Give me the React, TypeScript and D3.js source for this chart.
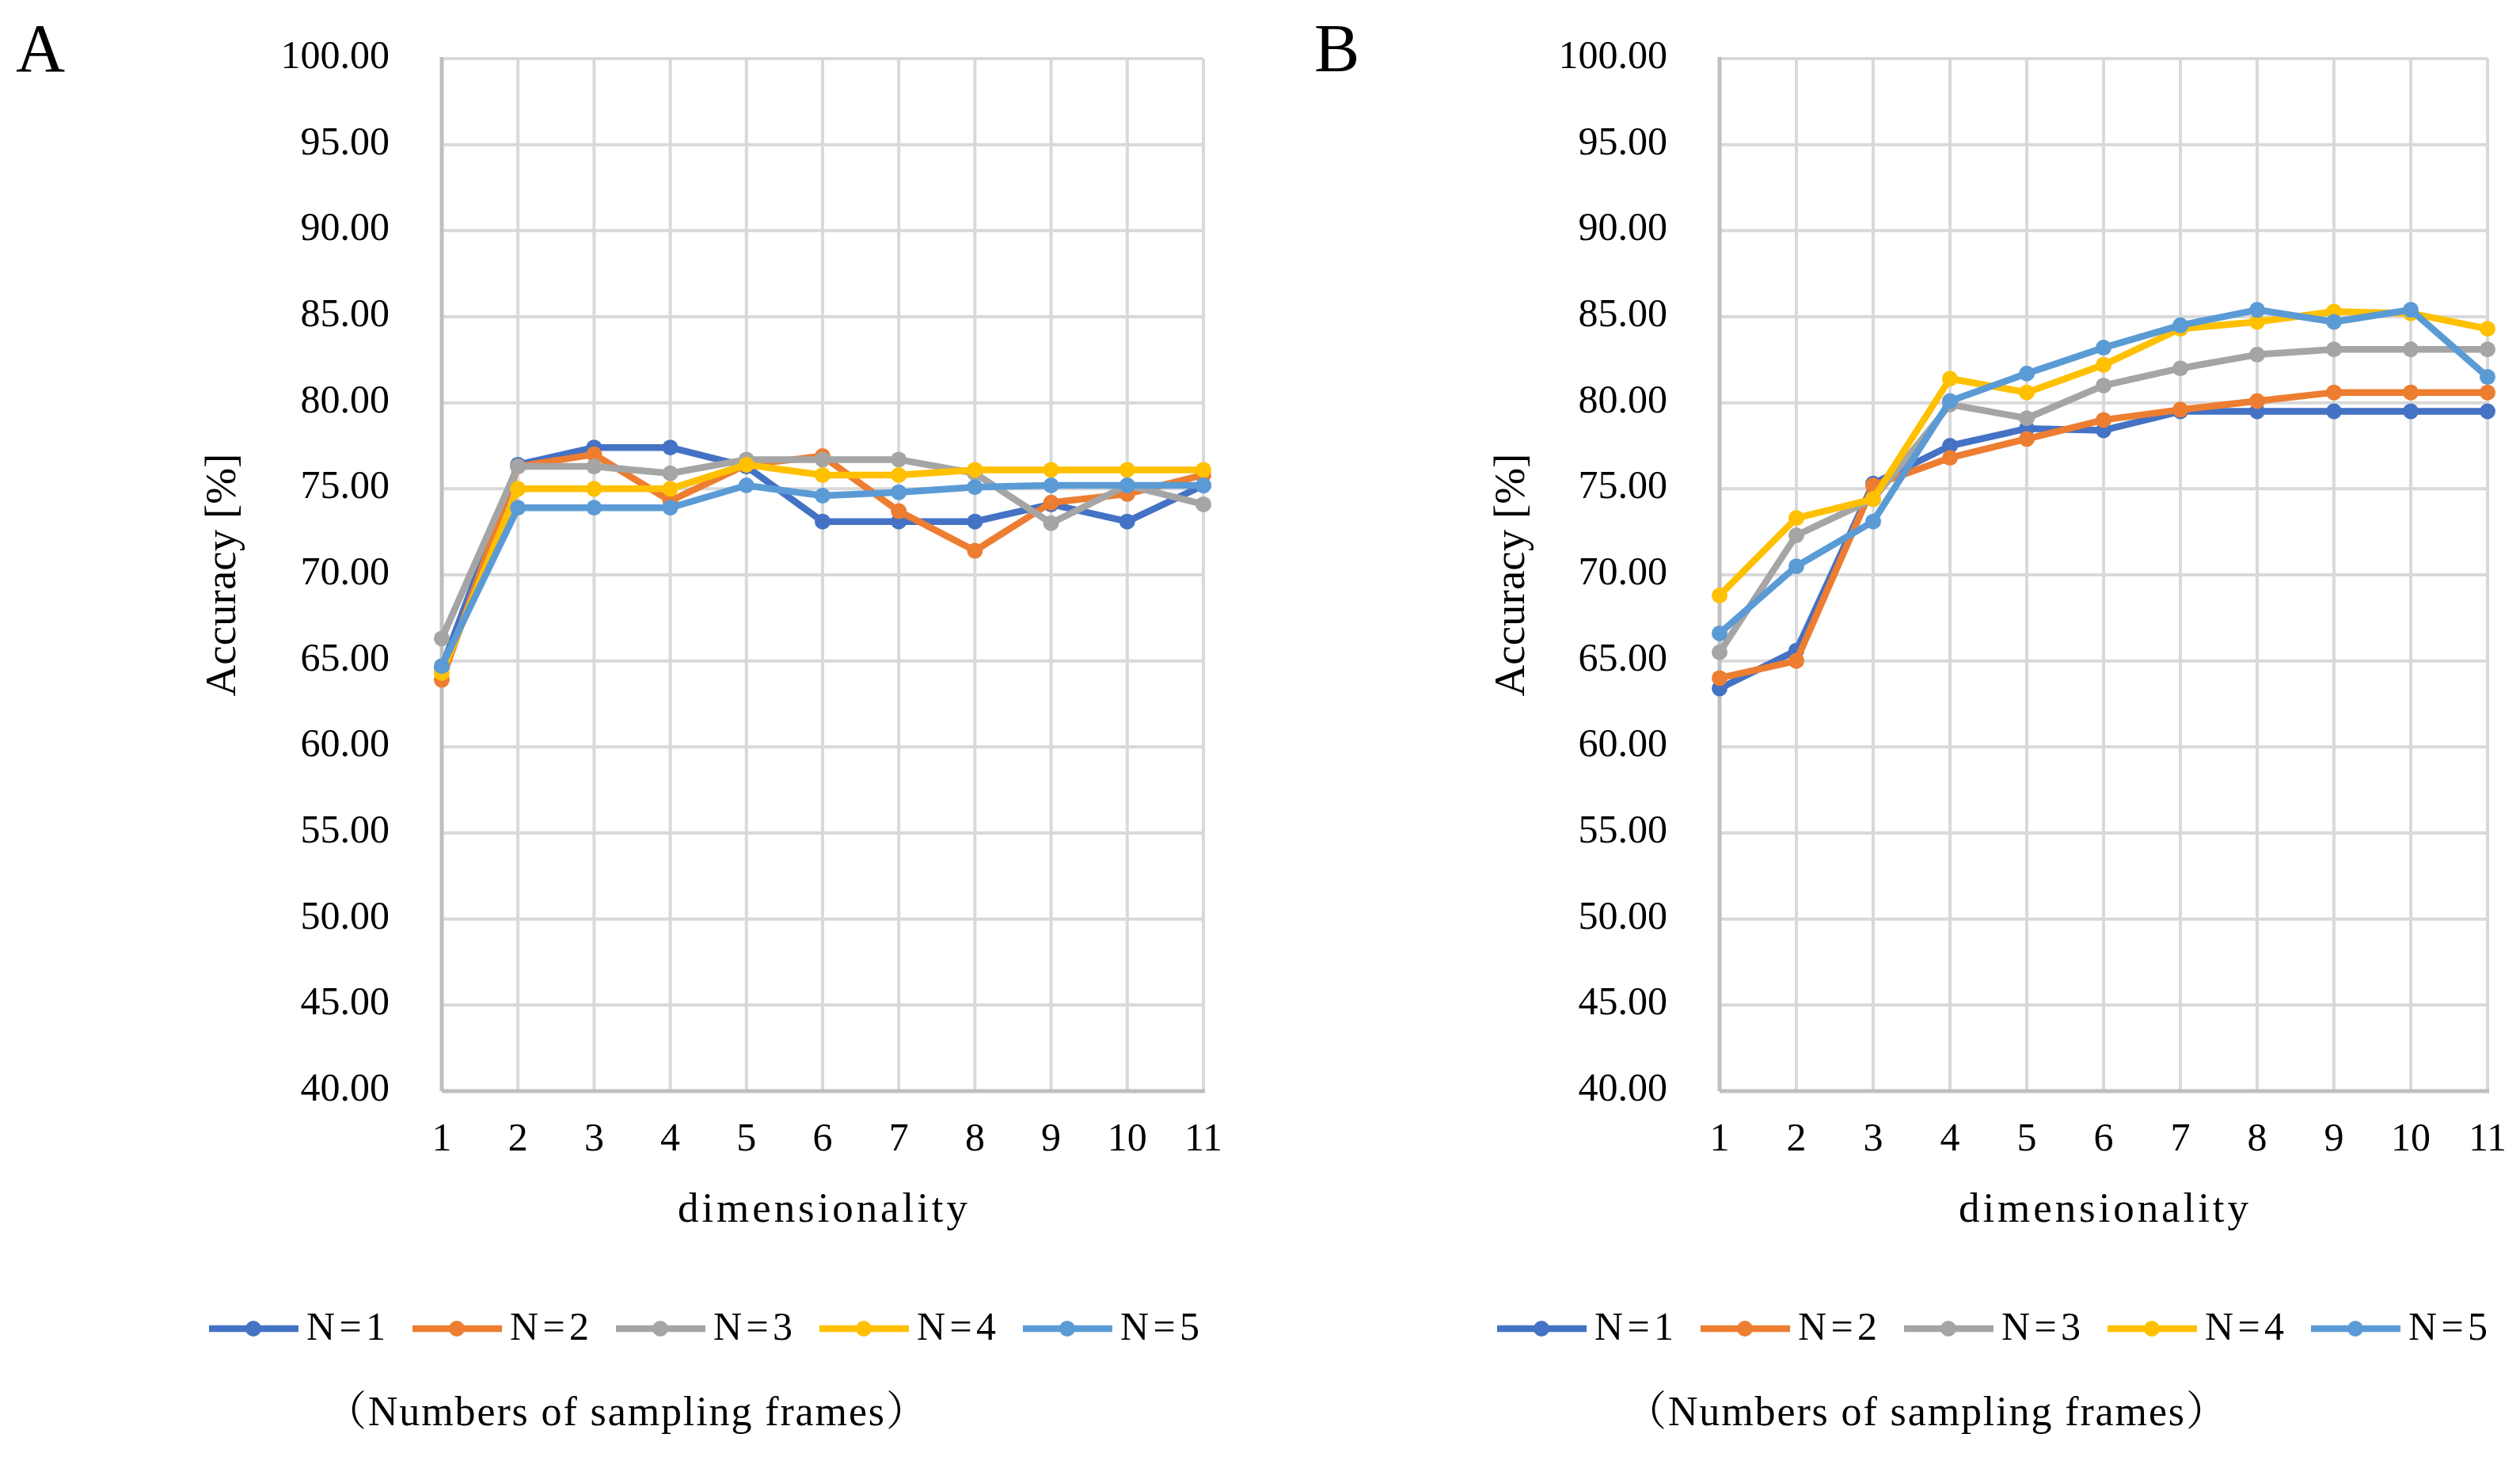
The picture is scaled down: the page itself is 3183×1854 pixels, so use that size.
import React from 'react';
import * as d3 from 'd3';

const dims = [1, 2, 3, 4, 5, 6, 7, 8, 9, 10, 11];
const yTicks = [40, 45, 50, 55, 60, 65, 70, 75, 80, 85, 90, 95, 100];
const seriesNames = ['N=1', 'N=2', 'N=3', 'N=4', 'N=5'];
const seriesColors = ['#4472C4', '#ED7D31', '#A5A5A5', '#FFC000', '#5B9BD5'];

// panel A
const aN1 = [64.6, 76.4, 77.4, 77.4, 76.3, 73.1, 73.1, 73.1, 74.1, 73.1, 75.2];
const aN2 = [63.9, 76.3, 77.0, 74.3, 76.4, 76.9, 73.7, 71.4, 74.2, 74.7, 75.8];
const aN3 = [66.3, 76.3, 76.3, 75.9, 76.7, 76.7, 76.7, 75.9, 73.0, 75.2, 74.1];
const aN4 = [64.3, 75.0, 75.0, 75.0, 76.4, 75.8, 75.8, 76.1, 76.1, 76.1, 76.1];
const aN5 = [64.7, 73.9, 73.9, 73.9, 75.2, 74.6, 74.8, 75.1, 75.2, 75.2, 75.2];

// panel B
const bN1 = [63.4, 65.6, 75.3, 77.5, 78.5, 78.4, 79.5, 79.5, 79.5, 79.5, 79.5];
const bN2 = [64.0, 65.0, 75.2, 76.8, 77.9, 79.0, 79.6, 80.1, 80.6, 80.6, 80.6];
const bN3 = [65.5, 72.3, 74.4, 79.9, 79.1, 81.0, 82.0, 82.8, 83.1, 83.1, 83.1];
const bN4 = [68.8, 73.3, 74.4, 81.4, 80.6, 82.2, 84.3, 84.7, 85.3, 85.2, 84.3];
const bN5 = [66.6, 70.5, 73.1, 80.1, 81.7, 83.2, 84.5, 85.4, 84.7, 85.4, 81.5];

const FONT = '"Liberation Serif", "Times New Roman", "Noto Serif CJK JP", "Noto Sans CJK JP", serif';

interface PanelProps {
  label: string;
  series: number[][];
  left: number;
  right: number;
  labelX: number;
  yTitleX: number;
  legendX: number;
  noteX: number;
}

const Panel: React.FC<PanelProps> = ({ label, series, left, right, labelX, yTitleX, legendX, noteX }) => {
  const top = 74;
  const bottom = 1378;
  const x = d3.scaleLinear().domain([1, 11]).range([left, right]);
  const y = d3.scaleLinear().domain([40, 100]).range([bottom, top]);
  const line = d3.line<number>().x((_, i) => x(dims[i])).y(d => y(d));
  const midX = (left + right) / 2;
  const midY = (top + bottom) / 2;

  return (
    <g fontFamily={FONT} fill="#000">
      <text x={labelX} y={90} fontSize={86}>{label}</text>

      {/* gridlines */}
      {yTicks.filter(t => t > 40).map(t => (
        <line key={'h' + t} x1={left} x2={right} y1={y(t)} y2={y(t)} stroke="#D9D9D9" strokeWidth={4} />
      ))}
      {dims.filter(d => d > 1).map(d => (
        <line key={'v' + d} x1={x(d)} x2={x(d)} y1={top} y2={bottom} stroke="#D9D9D9" strokeWidth={4} />
      ))}
      <line x1={left} x2={left} y1={top - 2} y2={bottom} stroke="#BFBFBF" strokeWidth={5} />
      <line x1={left} x2={right + 2} y1={bottom} y2={bottom} stroke="#BFBFBF" strokeWidth={5} />

      {/* tick labels */}
      {yTicks.map(t => (
        <text key={'yt' + t} x={left - 66} y={y(t) + 12} fontSize={50} textAnchor="end">{t.toFixed(2)}</text>
      ))}
      {dims.map(d => (
        <text key={'xt' + d} x={x(d)} y={1453} fontSize={50} textAnchor="middle">{d}</text>
      ))}

      <text x={midX} y={1543} fontSize={53} textAnchor="middle" textLength={366} lengthAdjust="spacing">dimensionality</text>
      <text transform={`translate(${yTitleX},${midY}) rotate(-90)`} fontSize={55} textAnchor="middle">Accuracy [%]</text>

      {/* series */}
      {series.map((s, si) => (
        <g key={'s' + si}>
          <path d={line(s) || ''} fill="none" stroke={seriesColors[si]} strokeWidth={8.5} strokeLinejoin="round" />
          {s.map((v, i) => (
            <circle key={i} cx={x(dims[i])} cy={y(v)} r={10} fill={seriesColors[si]} />
          ))}
        </g>
      ))}

      {/* legend */}
      {seriesNames.map((n, i) => {
        const lx = legendX + i * 257;
        return (
          <g key={'lg' + n}>
            <line x1={lx} x2={lx + 113} y1={1678} y2={1678} stroke={seriesColors[i]} strokeWidth={8.5} />
            <circle cx={lx + 56} cy={1678} r={10} fill={seriesColors[i]} />
            <text x={lx + 123} y={1692} fontSize={50} textLength={100} lengthAdjust="spacing">{n}</text>
          </g>
        );
      })}

      <text x={noteX} y={1800} fontSize={52} textAnchor="middle" textLength={760} lengthAdjust="spacing">（Numbers of sampling frames）</text>
    </g>
  );
};

const App: React.FC = () => {
  return (
    <svg
      width={3183}
      height={1854}
      style={{ position: 'absolute', left: 0, top: 0, background: '#fff' }}
    >
      <rect x={0} y={0} width={3183} height={1854} fill="#fff" />
      <Panel
        label="A"
        series={[aN1, aN2, aN3, aN4, aN5]}
        left={558}
        right={1520}
        labelX={20}
        yTitleX={297}
        legendX={264}
        noteX={791}
      />
      <Panel
        label="B"
        series={[bN1, bN2, bN3, bN4, bN5]}
        left={2172}
        right={3142}
        labelX={1660}
        yTitleX={1925}
        legendX={1891}
        noteX={2433}
      />
    </svg>
  );
};

export default App;
